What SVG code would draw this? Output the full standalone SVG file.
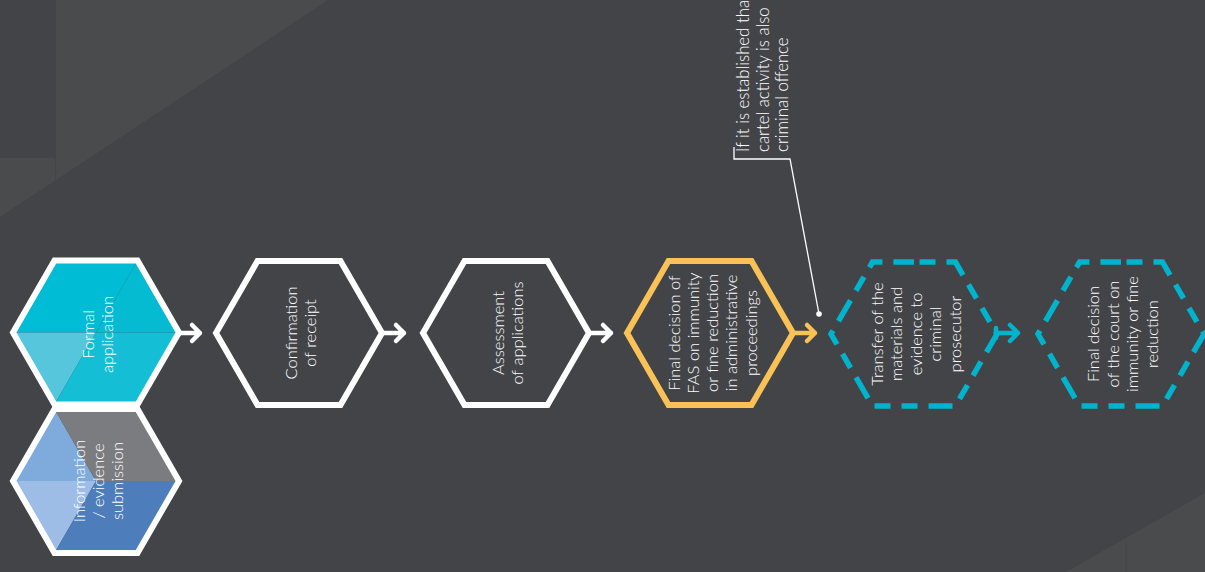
<svg xmlns="http://www.w3.org/2000/svg" width="1205" height="572" viewBox="0 0 1205 572">
<defs>
<style>
.bg{fill:#434448}
.bgl{fill:#4a4b4d}
.hexw{fill:none;stroke:#ffffff;stroke-width:6;stroke-linejoin:miter}
.hexy{fill:none;stroke:#f9c257;stroke-width:6;stroke-linejoin:miter}
.hexd{fill:none;stroke:#00b4cd;stroke-width:5.5;stroke-linejoin:miter;stroke-dasharray:16 11 16 11 24 11;stroke-dashoffset:21.5}
.lbl{fill:#ffffff;font-family:Lato,"Open Sans","Liberation Sans",sans-serif;font-weight:300;font-size:16.5px;text-anchor:middle}
.call{fill:#ffffff;font-family:Lato,"Open Sans","Liberation Sans",sans-serif;font-weight:300;font-size:16.8px;text-anchor:start}
.arw{fill:none;stroke-width:4.5;stroke-linecap:round;stroke-linejoin:round}
</style>
<path id="hx" d="M0,-71.9 L41.5,-71.9 L83,0 L41.5,71.9 L-41.5,71.9 L-83,0 L-41.5,-71.9 Z"/>
</defs>
<rect class="bg" x="0" y="0" width="1205" height="572"/>
<polygon class="bgl" points="56,0 328,0 0,217 0,158 56,158"/>
<line x1="55.5" y1="158" x2="55.5" y2="180" stroke="#444548" stroke-width="1"/>
<polygon class="bgl" points="1066,572 1205,493 1205,572"/>
<line x1="1126" y1="538" x2="1126" y2="572" stroke="#474849" stroke-width="1"/>

<g id="connectors">
<path class="arw" stroke="#ffffff" d="M179,333 H200 M192,325 L200,333 L192,341"/>
<path class="arw" stroke="#ffffff" d="M382,333 H404 M396,325 L404,333 L396,341"/>
<path class="arw" stroke="#ffffff" d="M589,333 H611 M603,325 L611,333 L603,341"/>
<path class="arw" stroke="#f9c257" d="M793,333 H815 M807,325 L815,333 L807,341"/>
<path class="arw" stroke="#00b4cd" d="M997,333 H1018 M1010,325 L1018,333 L1010,341"/>
<path class="arw" stroke="#00b4cd" d="M996,328 V338"/>
</g>

<g id="callout">
<polyline points="734,147 734,159 790,159 819,314" fill="none" stroke="#ffffff" stroke-width="1.3"/>
<circle cx="819" cy="314" r="2.8" fill="#ffffff"/>
<text class="call" transform="rotate(-90)"><tspan x="-152" y="749">If it is established that</tspan><tspan x="-152" y="768.5">cartel activity is also</tspan><tspan x="-152" y="788">criminal offence</tspan></text>
</g>

<g id="formal-application" transform="translate(96,332.5)">
<polygon points="-83,0 -41.5,-71.9 41.5,-71.9 0,0" fill="#00bcd4"/>
<polygon points="41.5,-71.9 83,0 0,0" fill="#05bbd2"/>
<polygon points="-83,0 0,0 -41.5,71.9" fill="#55c6db"/>
<polygon points="0,0 83,0 41.5,71.9 -41.5,71.9" fill="#14bfd6"/>
<use href="#hx" class="hexw"/>
<text class="lbl" transform="rotate(-90)"><tspan x="-2" y="-2">Formal</tspan><tspan x="-2" y="17">application</tspan></text>
</g>

<g id="information-submission" transform="translate(96,481)">
<polygon points="-83,0 -41.5,-71.9 0,0" fill="#7eaadc"/>
<polygon points="-41.5,-71.9 41.5,-71.9 83,0 0,0" fill="#7b7c7f"/>
<polygon points="-83,0 0,0 -41.5,71.9" fill="#9dbde6"/>
<polygon points="0,0 83,0 41.5,71.9 -41.5,71.9" fill="#4d7dba"/>
<use href="#hx" class="hexw"/>
<text class="lbl" transform="rotate(-90)"><tspan x="0" y="-11.5">Information</tspan><tspan x="0" y="7.5">/ evidence</tspan><tspan x="0" y="26.5">submission</tspan></text>
</g>

<g id="confirmation-of-receipt" transform="translate(299,333)">
<use href="#hx" class="hexw"/>
<text class="lbl" transform="rotate(-90)"><tspan x="0" y="-2">Confirmation</tspan><tspan x="0" y="17">of receipt</tspan></text>
</g>

<g id="assessment-of-applications" transform="translate(506,333)">
<use href="#hx" class="hexw"/>
<text class="lbl" transform="rotate(-90)"><tspan x="0" y="-2">Assessment</tspan><tspan x="0" y="17">of applications</tspan></text>
</g>

<g id="final-decision-fas" transform="translate(710,333)">
<use href="#hx" class="hexy"/>
<text class="lbl" transform="rotate(-90)"><tspan x="0" y="-30.5">Final decision of</tspan><tspan x="0" y="-11.2">FAS on immunity</tspan><tspan x="0" y="8.1">or fine reduction</tspan><tspan x="0" y="27.4">in administrative</tspan><tspan x="0" y="46.7">proceedings</tspan></text>
</g>

<g id="transfer-to-prosecutor" transform="translate(914,334)">
<use href="#hx" class="hexd" pathLength="534"/>
<text class="lbl" transform="rotate(-90)"><tspan x="0" y="-31.5">Transfer of the</tspan><tspan x="0" y="-12">materials and</tspan><tspan x="0" y="7.5">evidence to</tspan><tspan x="0" y="27">criminal</tspan><tspan x="0" y="46.5">prosecutor</tspan></text>
</g>

<g id="final-decision-court" transform="translate(1121,334)">
<use href="#hx" class="hexd" pathLength="534"/>
<text class="lbl" transform="rotate(-90)"><tspan x="0" y="-22">Final decision</tspan><tspan x="0" y="-2.5">of the court on</tspan><tspan x="0" y="17">immunity or fine</tspan><tspan x="0" y="36.5">reduction</tspan></text>
</g>
</svg>
